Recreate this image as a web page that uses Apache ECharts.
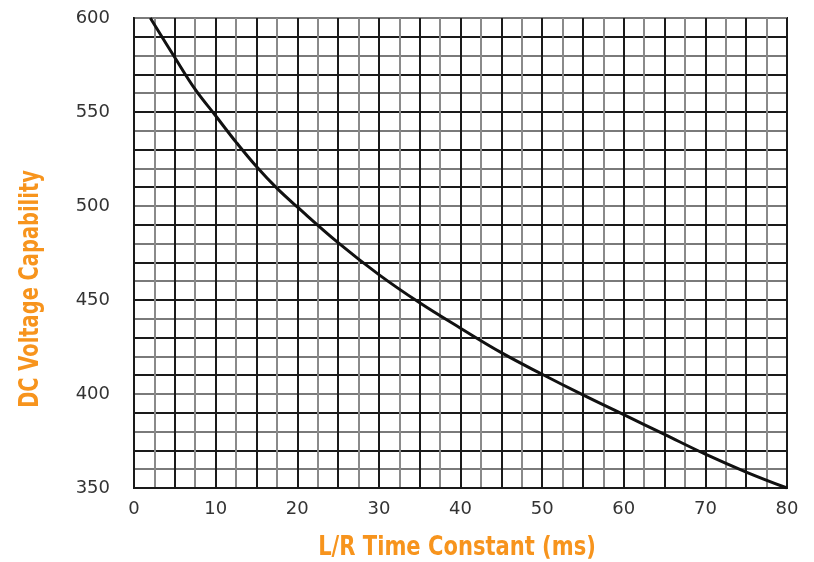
<!DOCTYPE html>
<html>
<head>
<meta charset="utf-8">
<script src="https://cdn.jsdelivr.net/npm/echarts@6/dist/echarts.min.js"></script>
<style>html,body{margin:0;padding:0;background:#fff;}#c{width:814px;height:562px;}</style>
</head>
<body>
<div id="c"></div>
<script>
const timeConstant = [2, 5, 7.5, 10, 12.5, 15, 17.5, 20, 25, 30, 35, 40, 45, 50, 55, 60, 65, 70, 75, 80];
const voltage = [600, 579, 562, 548, 534, 521, 509.5, 499.5, 480.5, 463.5, 448.5, 435, 422, 410.5, 399.5, 389, 378.5, 368, 358.5, 350];
const xLabels = [0, 10, 20, 30, 40, 50, 60, 70, 80];
const yLabels = [350, 400, 450, 500, 550, 600];
const xTitle = 'L/R Time Constant (ms)';
const yTitle = 'DC Voltage Capability';

const chart = echarts.init(document.getElementById('c'), null, {renderer: 'canvas'});
const labelFont = {fontFamily: 'DejaVu Sans', fontSize: 18, color: '#333'};
const titleStyle = {fontFamily: 'DejaVu Sans', fontSize: 27, fontWeight: 'bold', fill: '#F7941D', align: 'center', verticalAlign: 'middle'};
chart.setOption({
  animation: false,
  grid: {left: 134, right: 27, top: 18, bottom: 74, show: true, borderColor: '#1a1a1a', borderWidth: 2, backgroundColor: 'transparent'},
  xAxis: {
    type: 'value', min: 0, max: 80, interval: 2.5,
    axisLine: {show: true, lineStyle: {color: '#1a1a1a', width: 2}},
    axisTick: {show: false},
    axisLabel: Object.assign({margin: 12, formatter: v => xLabels.includes(v) ? String(v) : ''}, labelFont),
    splitLine: {show: true, lineStyle: {color: ['#1a1a1a', '#8a8a8a'], width: 2}}
  },
  yAxis: {
    type: 'value', min: 350, max: 600, interval: 10,
    axisLine: {show: true, lineStyle: {color: '#1a1a1a', width: 2}},
    axisTick: {show: false},
    axisLabel: Object.assign({margin: 24, formatter: v => yLabels.includes(v) ? String(v) : ''}, labelFont),
    splitLine: {show: true, lineStyle: {color: ['#1a1a1a', '#7a7a7a'], width: 2}}
  },
  graphic: [
    {type: 'text', x: 457, y: 548, scaleX: 0.78, style: Object.assign({text: xTitle}, titleStyle)},
    {type: 'text', x: 31, y: 289, rotation: Math.PI / 2, scaleX: 0.72, style: Object.assign({text: yTitle}, titleStyle)}
  ],
  series: [{
    type: 'line', smooth: 0.4, showSymbol: false,
    lineStyle: {color: '#111', width: 3},
    data: timeConstant.map((x, i) => [x, voltage[i]])
  }]
});
</script>
</body>
</html>
